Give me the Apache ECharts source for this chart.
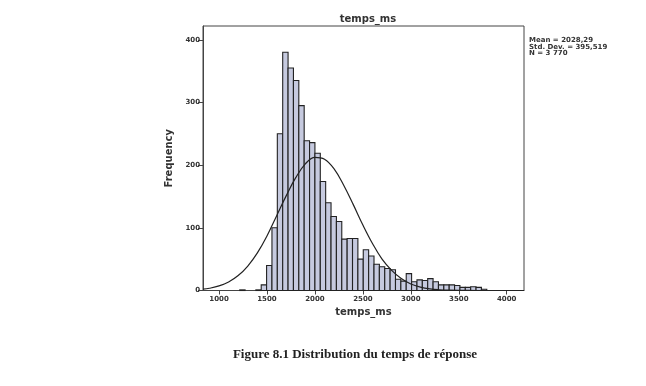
<!DOCTYPE html>
<html>
<head>
<meta charset="utf-8">
<script src="https://cdn.jsdelivr.net/npm/echarts@6/dist/echarts.min.js"></script>
<style>
  html, body { margin: 0; padding: 0; background: #fff; }
  #chart { width: 646px; height: 386px; }
</style>
</head>
<body>
<div id="chart"></div>
<script>
// histogram of temps_ms, bins of ~56 ms
var binFirst = 1216;
var binWidth = 56;
var counts = [1, 0, 0, 1, 9, 40, 100, 250, 380, 355, 335, 295, 239, 236, 219, 174, 140, 118, 110,
              82, 83, 83, 50, 65, 55, 42, 38, 35, 33, 18, 15, 27, 14, 17, 16, 19, 14,
              9, 9, 9, 8, 5, 5, 6, 5, 2];

// fitted normal curve
var curveX = [833, 900, 1000, 1100, 1200, 1300, 1400, 1500, 1600, 1700, 1800, 1900, 2000, 2100,
              2200, 2300, 2400, 2500, 2600, 2700, 2800, 2900, 3000, 3100, 3200, 3300, 3400, 3500,
              3700, 3900, 4180];
var curveY = [2.2, 3.6, 7.3, 13.6, 23.8, 39, 60, 87, 119, 151, 180, 202, 212.5, 209.5,
              194, 168, 137, 104.5, 75, 50, 32, 19, 10.4, 5.4, 2.6, 1.2, 0.5, 0.2,
              0, 0, 0];

var xTicks = [1000, 1500, 2000, 2500, 3000, 3500, 4000];
var statsLines = ['Mean = 2028,29', 'Std. Dev. = 395,519', 'N = 3 770'];

var bars = counts.map(function (c, i) {
    var x0 = binFirst + i * binWidth;
    return [x0, x0 + binWidth, c];
}).filter(function (d) { return d[2] > 0; });

var chart = echarts.init(document.getElementById('chart'), null, { renderer: 'canvas' });

var labelFont = { fontFamily: 'DejaVu Sans', fontSize: 7, color: '#333', fontWeight: 'bold' };
var plain = function (v) { return String(v); };

chart.setOption({
    backgroundColor: '#fff',
    animation: false,
    title: [{
        text: 'temps_ms',
        left: 363,
        top: 9,
        textAlign: 'center',
        textStyle: { fontFamily: 'DejaVu Sans', fontSize: 10, fontWeight: 'bold', color: '#333' }
    }, {
        text: 'Figure 8.1 Distribution du temps de réponse',
        left: 350,
        top: 343,
        textAlign: 'center',
        textStyle: { fontFamily: 'Liberation Serif', fontSize: 13, fontWeight: 'bold', color: '#222' }
    }],
    grid: {
        left: 203, top: 26, right: 122, bottom: 95.5,
        show: true, borderColor: '#444', borderWidth: 1, backgroundColor: '#fff'
    },
    xAxis: {
        type: 'value',
        min: 833,
        max: 4180,
        name: 'temps_ms',
        nameLocation: 'middle',
        nameGap: 17,
        nameTextStyle: { fontFamily: 'DejaVu Sans', fontSize: 10, fontWeight: 'bold', color: '#333' },
        axisLine: { lineStyle: { color: '#444', width: 1 } },
        axisTick: { show: true, customValues: xTicks, length: 4, lineStyle: { color: '#444' } },
        axisLabel: Object.assign({ customValues: xTicks, margin: 5, formatter: plain }, labelFont),
        splitLine: { show: false }
    },
    yAxis: {
        type: 'value',
        min: 0,
        max: 422,
        interval: 100,
        name: 'Frequency',
        nameLocation: 'middle',
        nameGap: 29,
        nameTextStyle: { fontFamily: 'DejaVu Sans', fontSize: 10, fontWeight: 'bold', color: '#333' },
        axisLine: { show: true, lineStyle: { color: '#444', width: 1 } },
        axisTick: { show: true, length: 5, lineStyle: { color: '#444' } },
        axisLabel: Object.assign({ margin: 3, showMaxLabel: false, formatter: plain }, labelFont),
        splitLine: { show: false }
    },
    graphic: [{
        type: 'text',
        left: 529,
        top: 37,
        style: {
            text: statsLines.join('\n'),
            font: 'bold 7px "DejaVu Sans"',
            lineHeight: 6.5,
            fill: '#333'
        }
    }],
    series: [{
        type: 'custom',
        renderItem: function (params, api) {
            var p0 = api.coord([api.value(0), api.value(2)]);
            var p1 = api.coord([api.value(1), 0]);
            return {
                type: 'rect',
                shape: { x: p0[0], y: p0[1], width: p1[0] - p0[0], height: p1[1] - p0[1] },
                style: { fill: '#c6cadf', stroke: '#222', lineWidth: 1.1 }
            };
        },
        encode: { x: [0, 1], y: 2 },
        data: bars,
        z: 2
    }, {
        type: 'line',
        data: curveX.map(function (x, i) { return [x, curveY[i]]; }),
        smooth: 0.4,
        showSymbol: false,
        lineStyle: { color: '#222', width: 1.2 },
        z: 3
    }]
});
</script>
</body>
</html>
